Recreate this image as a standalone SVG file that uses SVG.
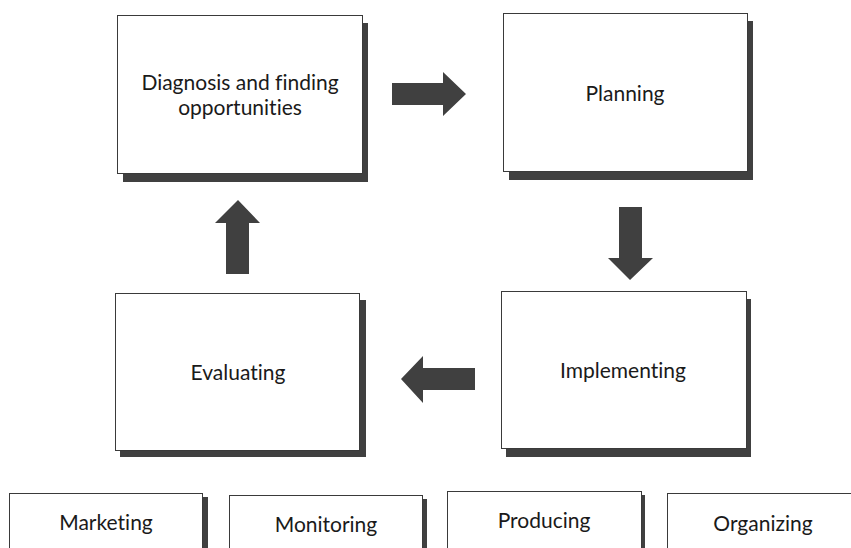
<svg xmlns="http://www.w3.org/2000/svg" width="851" height="548" viewBox="0 0 851 548">
  <defs>
    <style>
      .box { fill: #ffffff; stroke: #3a3a3a; stroke-width: 1; }
      .shadow { fill: #404040; }
      .arrow { fill: #404040; }
      .label { font-family: Lato, "Liberation Sans", sans-serif; font-size: 21px; fill: #1a1a1a; text-anchor: middle; font-variant-ligatures: none; }
    </style>
  </defs>
  <rect x="0" y="0" width="851" height="548" fill="#ffffff"/>

  <!-- Cycle stages -->
  <g id="diagnosis">
    <rect class="shadow" x="123" y="23" width="245" height="159"/>
    <rect class="box" x="117.5" y="15.5" width="245" height="158"/>
    <text class="label" x="240" y="90">Diagnosis and finding</text>
    <text class="label" x="240" y="115">opportunities</text>
  </g>
  <g id="planning">
    <rect class="shadow" x="509" y="21" width="244" height="159"/>
    <rect class="box" x="503.5" y="13.5" width="244" height="158"/>
    <text class="label" x="625" y="101">Planning</text>
  </g>
  <g id="implementing">
    <rect class="shadow" x="506" y="299" width="245" height="158"/>
    <rect class="box" x="501.5" y="291.5" width="245" height="157"/>
    <text class="label" x="623" y="378">Implementing</text>
  </g>
  <g id="evaluating">
    <rect class="shadow" x="120" y="300" width="246" height="157"/>
    <rect class="box" x="115.5" y="293.5" width="244" height="157"/>
    <text class="label" x="238" y="380">Evaluating</text>
  </g>

  <!-- Activity boxes -->
  <g id="marketing">
    <rect class="shadow" x="14" y="497" width="194" height="60"/>
    <rect class="box" x="9.5" y="493.5" width="193" height="60"/>
    <text class="label" x="106" y="530">Marketing</text>
  </g>
  <g id="monitoring">
    <rect class="shadow" x="234" y="499" width="193" height="60"/>
    <rect class="box" x="229.5" y="495.5" width="193" height="60"/>
    <text class="label" x="326" y="532">Monitoring</text>
  </g>
  <g id="producing">
    <rect class="shadow" x="451" y="495" width="194" height="60"/>
    <rect class="box" x="447.5" y="491.5" width="194" height="60"/>
    <text class="label" x="544" y="528">Producing</text>
  </g>
  <g id="organizing">
    <rect class="shadow" x="672" y="497" width="200" height="60"/>
    <rect class="box" x="667.5" y="493.5" width="200" height="60"/>
    <text class="label" x="763" y="531">Organizing</text>
  </g>

  <!-- Block arrows between stages -->
  <g id="connectors">
    <polygon class="arrow" points="392,83 443,83 443,72 466,94 443,116 443,105 392,105"/>
    <polygon class="arrow" points="619,207 642,207 642,258 653,258 630,280 608,258 619,258"/>
    <polygon class="arrow" points="475,368 423,368 423,356 401,379 423,403 423,390 475,390"/>
    <polygon class="arrow" points="226,274 226,223 215,223 238,200 260,223 249,223 249,274"/>
  </g>
</svg>
